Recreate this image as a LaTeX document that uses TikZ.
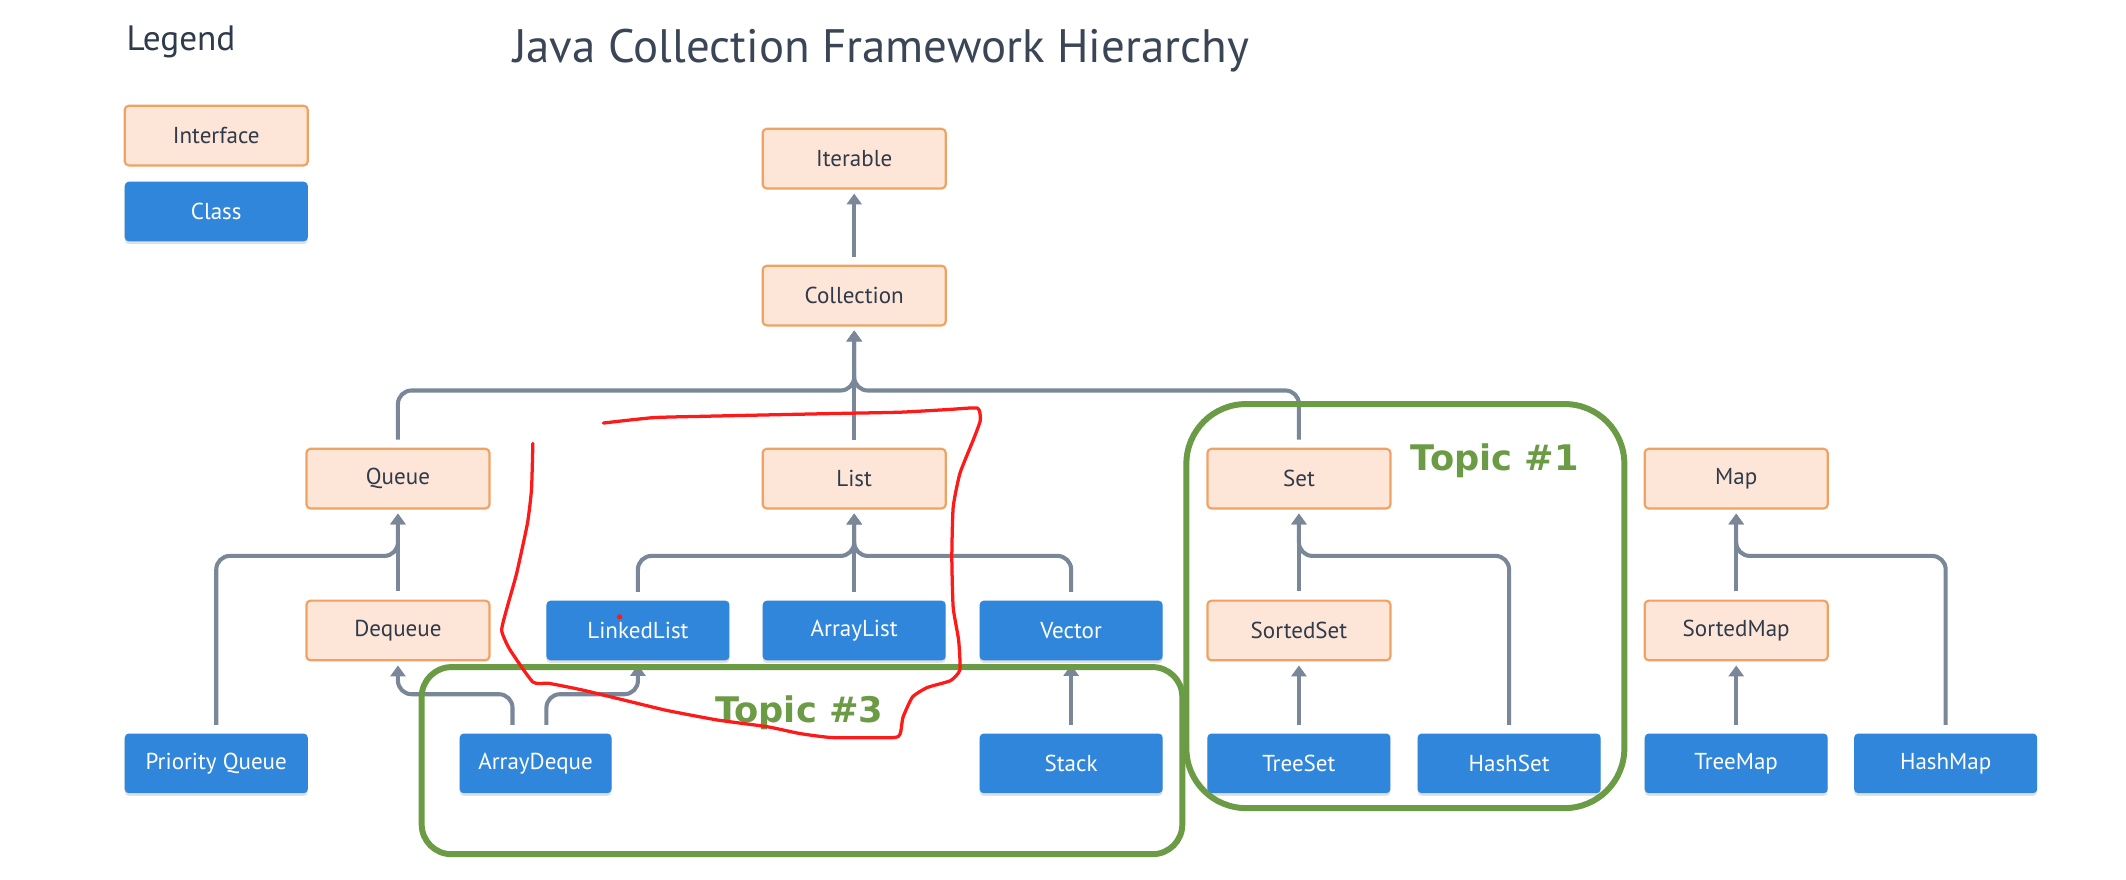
\documentclass[tikz,border=0pt]{standalone}
\usepackage{fontspec}
\setmainfont{PT Sans}
\newfontfamily\topicfont{DejaVu Sans}
\usetikzlibrary{arrows.meta,shadows}
\definecolor{ifill}{HTML}{FDE6D8}
\definecolor{idraw}{HTML}{F0A263}
\definecolor{cfill}{HTML}{2F86DA}
\definecolor{connc}{HTML}{7A8798}
\definecolor{txtc}{HTML}{2F3A4A}
\definecolor{titlec}{HTML}{3A4556}
\definecolor{topicc}{HTML}{6B9B45}
\definecolor{redpen}{HTML}{FF1A1A}
\begin{document}
\begin{tikzpicture}[x=0.5pt,y=-0.5pt,
  basebox/.style={minimum width=67.5pt, minimum height=22pt, rounded corners=1.5pt, inner sep=0pt, font=\fontsize{8.5}{9}\selectfont},
  iface/.style={basebox, fill=ifill, draw=idraw, line width=0.8pt, text=txtc},
  cls/.style={basebox, fill=cfill, text=white, drop shadow={shadow xshift=0pt, shadow yshift=-1pt, opacity=0.12, fill=black}},
  link/.style={draw=connc, line width=1.5pt, rounded corners=5pt, shorten <=3pt},
  arr/.style={link, -{Triangle[width=5.5pt,length=4pt]}, shorten >=1.5pt},
  topicbox/.style={draw=topicc, line width=2.2pt},
  topiclabel/.style={text=topicc, font=\topicfont\bfseries\fontsize{13}{13}\selectfont, anchor=base west, inner sep=0pt},
  pen/.style={draw=redpen, line width=1.2pt, line join=round, line cap=round}
]
\useasboundingbox (0,0) rectangle (1568,649);
\fill[white] (0,0) rectangle (1568,649);

% titles
\node[anchor=base west, inner sep=0pt, text=txtc, font=\fontsize{13}{13}\selectfont] (legend) at (93,37) {Legend};
\node[anchor=base west, inner sep=0pt, text=titlec, font=\fontsize{17.3}{17.3}\selectfont] (title) at (378,46) {Java Collection Framework Hierarchy};

% legend
\node[iface] (lgI) at (159.5,100) {Interface};
\node[cls] (lgC) at (159.5,156) {Class};

% nodes
\node[iface] (iter) at (630,117) {Iterable};
\node[iface] (coll) at (630,218) {Collection};
\node[iface] (queue) at (293.5,353) {Queue};
\node[iface] (list) at (630,353) {List};
\node[iface] (set) at (958,353) {Set};
\node[iface] (map) at (1280.5,353) {Map};
\node[iface] (deq) at (293.5,465) {Dequeue};
\node[cls] (ll) at (470.5,465) {LinkedList};
\node[cls] (al) at (630,465) {ArrayList};
\node[cls] (vec) at (790,465) {Vector};
\node[iface] (sset) at (958,465) {SortedSet};
\node[iface] (smap) at (1280.5,465) {SortedMap};
\node[cls] (pq) at (159.5,563) {Priority Queue};
\node[cls, minimum width=56pt] (ad) at (395,563) {ArrayDeque};
\node[cls] (stack) at (790,563) {Stack};
\node[cls] (tset) at (958,563) {TreeSet};
\node[cls] (hset) at (1113,563) {HashSet};
\node[cls] (tmap) at (1280.5,563) {TreeMap};
\node[cls] (hmap) at (1435,563) {HashMap};

% bus levels
\coordinate (cbus) at (0,288);
\coordinate (lbus) at (0,410);
\coordinate (adbus) at (0,512);
\coordinate (adL) at ([xshift=-8.5pt]ad.north);
\coordinate (adR) at ([xshift=4pt]ad.north);

% connectors
\draw[arr] (coll) -- (iter);
\draw[arr] (queue) -- (queue |- cbus) -- (coll |- cbus) -- (coll);
\draw[arr] (set) -- (set |- cbus) -- (coll |- cbus) -- (coll);
\draw[arr] (list) -- (coll);

\draw[arr] (pq) -- (pq |- lbus) -- (queue |- lbus) -- (queue);
\draw[arr] (deq) -- (queue);

\draw[arr] (ll) -- (ll |- lbus) -- (list |- lbus) -- (list);
\draw[arr] (vec) -- (vec |- lbus) -- (list |- lbus) -- (list);
\draw[arr] (al) -- (list);

\draw[arr] (hset) -- (hset |- lbus) -- (set |- lbus) -- (set);
\draw[arr] (sset) -- (set);
\draw[arr] (hmap) -- (hmap |- lbus) -- (map |- lbus) -- (map);
\draw[arr] (smap) -- (map);

\draw[arr] (adL) -- (adL |- adbus) -- (deq |- adbus) -- (deq);
\draw[arr] (adR) -- (adR |- adbus) -- (ll |- adbus) -- (ll);
\draw[arr] (stack) -- (vec);
\draw[arr] (tset) -- (sset);
\draw[arr] (tmap) -- (smap);

% annotations
\draw[topicbox, rounded corners=22pt] (875,298) rectangle (1198,596);
\node[topiclabel] (t1) at (1040,347) {Topic \#1};
\draw[topicbox, rounded corners=11pt] (311,492) rectangle (872,630);
\node[topiclabel] (t3) at (527,533) {Topic \#3};

\draw[pen] plot[smooth, tension=0.3] coordinates {
(445,312) (482,308) (520,307) (566,306) (614,305) (664,304) (700,302) (721,301)
(723,310) (718,324) (708,349) (703,374) (702,411) (703,448) (707,472) (708,494)
(701,502) (684,507) (673,514) (666,529) (664,541) (659,544) (614,544) (590,541)
(566,536) (529,531) (492,524) (467,518) (430,509) (405,504) (393,503) (376,479)
(370,465) (374,448) (381,423) (389,386) (392,361) (393,327)};
\fill[redpen] (457,455) circle (2);
\end{tikzpicture}
\end{document}
